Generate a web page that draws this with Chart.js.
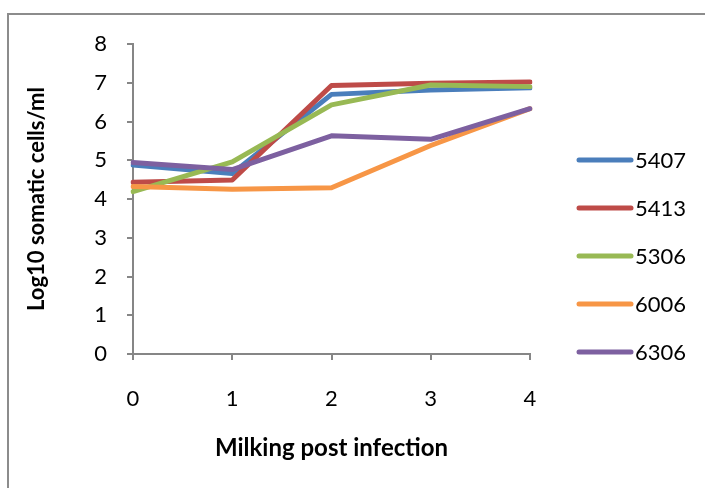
<!DOCTYPE html>
<html>
<head>
<meta charset="utf-8">
<script src="https://cdn.jsdelivr.net/npm/chart.js@4"></script>
<style>
  html, body { margin: 0; padding: 0; background: #fff; overflow: hidden; }
  #wrap { position: relative; width: 705px; height: 488px; }
  #frame { position: absolute; left: 7px; top: 13px; width: 800px; height: 600px; border: 2px solid #8c8c8c; }
  #c { position: absolute; left: 0; top: 0; }
</style>
</head>
<body>
<div id="wrap">
  <div id="frame"></div>
  <canvas id="c" width="705" height="488"></canvas>
</div>
<script>
// milking number after infection
const milkings = ['0', '1', '2', '3', '4'];

// log10 somatic cell counts per animal
const cow5407 = [4.88, 4.66, 6.70, 6.81, 6.87];
const cow5413 = [4.43, 4.49, 6.93, 6.99, 7.02];
const cow5306 = [4.19, 4.96, 6.43, 6.94, 6.90];
const cow6006 = [4.32, 4.25, 4.29, 5.38, 6.33];
const cow6306 = [4.94, 4.76, 5.63, 5.54, 6.33];

const seriesNames = ['5407', '5413', '5306', '6006', '6306'];
const seriesData = [cow5407, cow5413, cow5306, cow6006, cow6306];
const colours = ['#4a7ebb', '#be4b48', '#98b954', '#f79646', '#7d60a0'];

const font = 'Lato, "Open Sans", sans-serif';
const axisGrey = '#868686';

const datasets = seriesNames.map((name, i) => ({
  label: name,
  data: seriesData[i],
  borderColor: colours[i],
  backgroundColor: colours[i],
  borderWidth: 5,
  pointRadius: 0,
  tension: 0,
  borderCapStyle: 'round',
  borderJoinStyle: 'round',
  order: seriesNames.length - i
}));

// legend drawn on the right like the excel one
const sideLegend = {
  id: 'sideLegend',
  afterDraw(chart) {
    const ctx = chart.ctx;
    ctx.save();
    ctx.font = '22px ' + font;
    ctx.textBaseline = 'middle';
    ctx.textAlign = 'left';
    chart.data.datasets.forEach((ds, i) => {
      const y = 160 + i * 48;
      ctx.strokeStyle = ds.borderColor;
      ctx.lineWidth = 5;
      ctx.lineCap = 'round';
      ctx.beginPath();
      ctx.moveTo(579, y);
      ctx.lineTo(631, y);
      ctx.stroke();
      ctx.fillStyle = '#000';
      ctx.fillText(ds.label, 635, y + 1);
    });
    ctx.restore();
  }
};

new Chart(document.getElementById('c'), {
  type: 'line',
  data: { labels: milkings, datasets: datasets },
  plugins: [sideLegend],
  options: {
    responsive: false,
    animation: false,
    layout: { padding: { left: 0, top: 44, right: 175, bottom: 0 } },
    plugins: { legend: { display: false }, tooltip: { enabled: false } },
    scales: {
      x: {
        offset: false,
        afterFit(s) { s.height = 134; },
        border: { color: axisGrey, width: 2 },
        grid: { drawOnChartArea: false, color: axisGrey, lineWidth: 2, tickLength: 6 },
        ticks: { color: '#000', font: { family: font, size: 22 }, padding: 26, maxRotation: 0 },
        title: { display: true, text: 'Milking post infection', color: '#000',
                 font: { family: font, size: 24, weight: 'bold' }, padding: { top: 0, bottom: 25 } }
      },
      y: {
        min: 0,
        max: 8,
        afterFit(s) { s.width = 133; },
        border: { color: axisGrey, width: 2 },
        grid: { drawOnChartArea: false, color: axisGrey, lineWidth: 2, tickLength: 6 },
        ticks: { stepSize: 1, color: '#000', font: { family: font, size: 22 }, padding: 20 },
        title: { display: true, text: 'Log10 somatic cells/ml', color: '#000',
                 font: { family: font, size: 22, weight: 'bold' }, padding: { top: 24, bottom: 0 } }
      }
    }
  }
});
</script>
</body>
</html>
